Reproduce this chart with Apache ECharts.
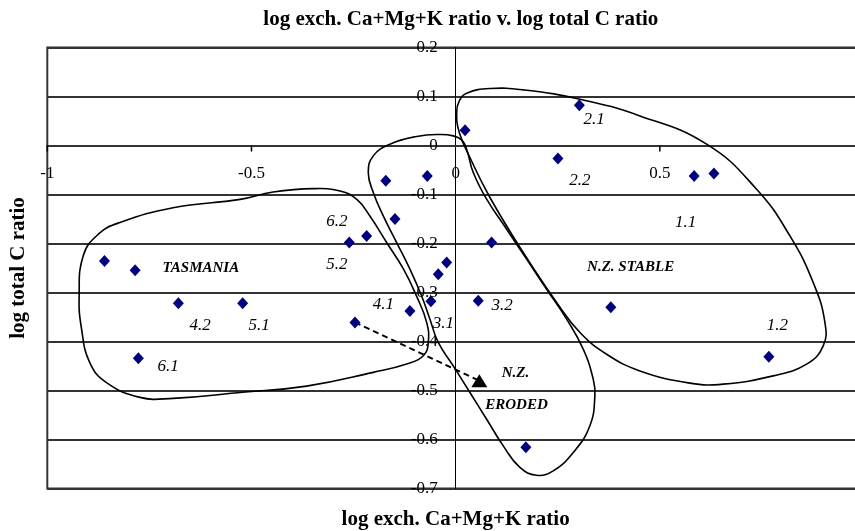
<!DOCTYPE html>
<html><head><meta charset="utf-8">
<script src="https://cdn.jsdelivr.net/npm/echarts@6/dist/echarts.min.js"></script>
<style>html,body{margin:0;padding:0;background:#fff}#c{width:855px;height:531px}</style>
</head><body><div id="c"></div>
<script>
// ---- data ----
const xTicks = [-1, -0.5, 0, 0.5, 1];
const yTicks = [0.2, 0.1, 0, -0.1, -0.2, -0.3, -0.4, -0.5, -0.6, -0.7];

const pointX = [0.303, 0.023, 0.2505, 0.584, 0.6325, -0.171, -0.0695, -0.1486, -0.218, -0.2605, 0.088, -0.860, -0.785, -0.022, -0.0426, -0.679, -0.5216, -0.0605, 0.0553, -0.112, -0.2466, 0.380, 0.767, -0.777, 0.172];
const pointY = [0.082, 0.031, -0.0265, -0.062, -0.057, -0.072, -0.062, -0.150, -0.1845, -0.198, -0.198, -0.2355, -0.2545, -0.239, -0.263, -0.322, -0.322, -0.318, -0.317, -0.3375, -0.361, -0.330, -0.431, -0.434, -0.616];

const arrowStart = [-0.2466, -0.361];
const arrowEnd = [0.058, -0.480];

const numLabels = ['2.1', '2.2', '1.1', '1.2', '3.2', '3.1', '4.1', '6.2', '5.2', '4.2', '5.1', '6.1'];
const numLabelX = [0.339, 0.304, 0.563, 0.788, 0.114, -0.030, -0.177, -0.291, -0.291, -0.626, -0.481, -0.704];
const numLabelY = [0.052, -0.072, -0.157, -0.367, -0.327, -0.363, -0.325, -0.156, -0.242, -0.368, -0.368, -0.451];

const groupLabels = ['TASMANIA', 'N.Z. STABLE', 'N.Z.', 'ERODED'];
const groupX = [-0.624, 0.4285, 0.1466, 0.149];
const groupY = [-0.250, -0.248, -0.465, -0.5306];

const tasmaniaOutline = [[-0.922,-0.307],[-0.912,-0.225],[-0.875,-0.181],[-0.822,-0.157],[-0.692,-0.127],[-0.528,-0.110],[-0.447,-0.095],[-0.349,-0.088],[-0.283,-0.093],[-0.242,-0.110],[-0.210,-0.144],[-0.169,-0.198],[-0.128,-0.252],[-0.096,-0.307],[-0.071,-0.361],[-0.067,-0.402],[-0.079,-0.429],[-0.120,-0.446],[-0.202,-0.463],[-0.365,-0.491],[-0.528,-0.504],[-0.692,-0.516],[-0.773,-0.514],[-0.855,-0.484],[-0.896,-0.443],[-0.916,-0.375]];
const erodedOutline = [[-0.214,-0.055],[-0.2017,-0.0212],[-0.161,0.0027],[-0.0955,0.0184],[-0.0384,0.0224],[-0.0059,0.0196],[0.0147,0.0114],[0.0269,-0.0076],[0.0431,-0.0551],[0.0759,-0.1096],[0.1249,-0.1708],[0.1738,-0.232],[0.2228,-0.2933],[0.2718,-0.3545],[0.3124,-0.4157],[0.337,-0.477],[0.341,-0.511],[0.3288,-0.572],[0.288,-0.6265],[0.239,-0.664],[0.198,-0.673],[0.1574,-0.657],[0.1166,-0.613],[0.0759,-0.5586],[0.035,-0.504],[-0.0059,-0.4498],[-0.0426,-0.402],[-0.063,-0.3545],[-0.0833,-0.307],[-0.112,-0.2524],[-0.1445,-0.198],[-0.1773,-0.1436],[-0.2017,-0.096]];
const stableOutline = [[0.0024,0.0673],[0.0089,0.091],[0.027,0.1067],[0.084,0.1163],[0.1655,0.1135],[0.3044,0.0945],[0.4513,0.0604],[0.6146,0.0027],[0.737,-0.0892],[0.8186,-0.1845],[0.8756,-0.2796],[0.9043,-0.3612],[0.9001,-0.409],[0.8594,-0.4463],[0.7777,-0.4702],[0.6552,-0.487],[0.5737,-0.485],[0.4513,-0.46],[0.3697,-0.426],[0.3044,-0.3816],[0.2473,-0.3204],[0.1655,-0.2184],[0.084,-0.1061],[0.035,-0.0245],[0.0089,0.0265]];
const outlines = [tasmaniaOutline, erodedOutline, stableOutline];

// ---- chart ----
const SERIF = '"Liberation Serif", "Times New Roman", serif';
const chart = echarts.init(document.getElementById('c'), null, {renderer: 'canvas'});
const labelSeries = (data, label) => ({
  type: 'scatter', silent: true, z: 6, symbolSize: 0.01,
  itemStyle: {color: 'rgba(0,0,0,0)', opacity: 1},
  label: Object.assign({show: true, fontFamily: SERIF, color: '#000', opacity: 1, formatter: p => p.name}, label),
  labelLayout: {hideOverlap: false},
  data
});

chart.setOption({
  animation: false,
  backgroundColor: '#fff',
  grid: {left: 47.3, right: -9, top: 47.5, bottom: 42.5, show: true, borderColor: '#333', borderWidth: 2, containLabel: false, outerBoundsMode: 'none'},
  xAxis: {
    type: 'value', min: -1, max: 1, interval: 0.5,
    axisLine: {onZero: true, lineStyle: {color: '#333', width: 2}},
    axisTick: {show: false},
    axisLabel: {show: false},
    splitLine: {show: false}
  },
  yAxis: {
    type: 'value', min: -0.7, max: 0.2, interval: 0.1,
    axisLine: {onZero: true, lineStyle: {color: '#000', width: 1}},
    axisTick: {show: false},
    axisLabel: {show: false},
    splitLine: {show: true, lineStyle: {color: '#333', width: 2}}
  },
  graphic: [
    {type: 'text', x: 460.8, y: 20, style: {text: 'log exch. Ca+Mg+K ratio v. log total C ratio', font: 'bold 21px ' + SERIF, fill: '#000', align: 'center', verticalAlign: 'middle'}},
    {type: 'text', x: 455.6, y: 520, style: {text: 'log exch. Ca+Mg+K ratio', font: 'bold 21px ' + SERIF, fill: '#000', align: 'center', verticalAlign: 'middle'}},
    {type: 'text', x: 19, y: 268, rotation: Math.PI / 2, style: {text: 'log total C ratio', font: 'bold 21px ' + SERIF, fill: '#000', align: 'center', verticalAlign: 'middle'}}
  ],
  series: [
    {
      type: 'custom', coordinateSystem: 'cartesian2d', silent: true, z: 3,
      data: outlines.map(() => [0, 0]),
      renderItem: (params, api) => {
        const pts = outlines[params.dataIndex].map(p => api.coord(p));
        return {type: 'polygon', shape: {points: pts, smooth: 0.45}, style: {fill: 'none', stroke: '#000', lineWidth: 1.6}};
      }
    },
    // x-axis tick marks hanging below the zero line
    {
      type: 'custom', coordinateSystem: 'cartesian2d', silent: true, z: 3,
      data: xTicks.filter(v => v !== 0).map(v => [v, 0]),
      renderItem: (params, api) => {
        const p = api.coord([api.value(0), api.value(1)]);
        return {type: 'line', shape: {x1: p[0], y1: p[1], x2: p[0], y2: p[1] + 6}, style: {stroke: '#000', lineWidth: 1.5}};
      }
    },
    {
      type: 'line', silent: true, z: 4, symbol: 'none',
      data: [arrowStart, arrowEnd],
      lineStyle: {color: '#000', width: 2, type: [6, 4]}
    },
    {
      type: 'scatter', silent: true, z: 5, symbol: 'diamond', symbolSize: [11, 12],
      itemStyle: {color: '#00007f', opacity: 1},
      data: pointX.map((x, i) => [x, pointY[i]])
    },
    {
      type: 'scatter', silent: true, z: 5, symbol: 'triangle', symbolSize: [16, 13],
      itemStyle: {color: '#000', opacity: 1},
      data: [arrowEnd]
    },
    // x tick labels (below the zero line)
    labelSeries(xTicks.map(v => ({name: String(v), value: [v, 0]})), {position: 'bottom', distance: 20, fontSize: 17}),
    // y tick labels (left of the zero line)
    labelSeries(yTicks.map(v => ({name: String(v), value: [0, v]})), {position: 'left', distance: 18, fontSize: 17}),
    labelSeries(numLabels.map((n, i) => ({name: n, value: [numLabelX[i], numLabelY[i]]})), {position: 'inside', fontStyle: 'italic', fontSize: 17}),
    labelSeries(groupLabels.map((n, i) => ({name: n, value: [groupX[i], groupY[i]]})), {position: 'inside', fontStyle: 'italic', fontWeight: 'bold', fontSize: 15})
  ]
});
</script>
</body></html>
